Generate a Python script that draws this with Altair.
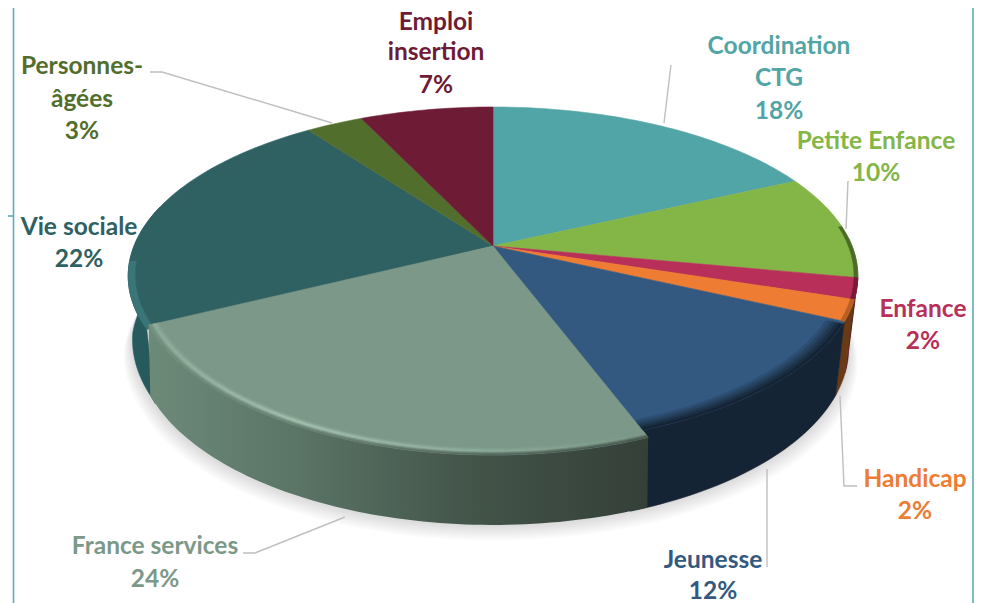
import math
import altair as alt

# ---- data ----
categories = ["Coordination CTG", "Petite Enfance", "Enfance", "Handicap", "Jeunesse",
              "France services", "Vie sociale", "Personnes-âgées", "Emploi insertion"]
shares = [18, 10, 2, 2, 12, 24, 22, 3, 7]
top_colors = ["#52A5A6", "#84B547", "#B83059", "#EE7C32", "#335981",
              "#7C9888", "#2F6062", "#526E2D", "#6E1C36"]
wall_colors = ["#3A7576", "#3F5A22", "#5A1028", "#6A3A14", "#152434",
               "#4B6256", "#265A5C", "#3A4E20", "#4E1426"]

label_lines = [["Emploi", "insertion", "7%"], ["Coordination", "CTG", "18%"], ["Petite Enfance", "10%"],
               ["Enfance", "2%"], ["Handicap", "2%"], ["Jeunesse", "12%"],
               ["France services", "24%"], ["Vie sociale", "22%"], ["Personnes-", "âgées", "3%"]]
label_colors = ["#6E1C36", "#52A5A6", "#84B547", "#B83059", "#EE7C32", "#335981",
                "#7C9888", "#2F6062", "#526E2D"]
label_x = [436, 779, 876, 923, 915, 713, 155, 79, 82]
label_y = [[21, 51, 84], [45, 77, 110], [140, 172], [308, 340], [478, 510], [559, 590],
           [545, 578], [226, 258], [65, 98, 130]]

leaders = [[(150, 72), (162, 72), (332, 123)],
           [(671, 65), (664, 123)],
           [(848, 181), (846, 229)],
           [(840, 396), (844, 486), (857, 486)],
           [(767, 469), (767, 567)],
           [(345, 517), (255, 553), (243, 553)],
           [(783, -1), (787, 2)]]
frame_tick = [[(0, 216), (13, 216)]]
frame_x = [973, 13.5]

# ---- perspective of the disc ----
CX, TIP_Y, C, A, S = 493.0, 246.0, 0.1775, -120.0, 359.0
K, D0, D1 = 0.975, 58.6, 0.048
FS = 5  # index of the France services slice
TEXT_DROP = 2


def top(theta, r=1.0, idx=None):
    u, v = r * math.sin(theta), r * math.cos(theta)
    d = 1 + C * v
    x, y = CX + S * u / d, (A * v + TIP_Y) / d
    if idx == FS:
        x, y = CX + 0.98 * (x - CX), TIP_Y + 1.05 * (y - TIP_Y)
    return (round(x, 2), round(y, 2))


def bottom(theta, grow=0.0, drop=0.0):
    x, y = top(theta)
    widen = 0.016 * min(1.0, max(0.0, (theta - 4.27) / 0.35))
    return (round(CX + (K + widen + grow) * (x - CX), 2), round(y + D0 + D1 * y + drop, 2))


def steps(a, b, n=None):
    n = n or max(2, int(abs(b - a) / 0.02))
    return [a + (b - a) * i / n for i in range(n + 1)]


def feature(points, color):
    ring = list(points) + [points[0]]
    return {"type": "Feature", "properties": {"color": color},
            "geometry": {"type": "Polygon", "coordinates": [ring]}}


def line_feature(points, color):
    return {"type": "Feature", "properties": {"color": color},
            "geometry": {"type": "LineString", "coordinates": points}}


def lerp(c1, c2, t):
    a = [int(c1[i:i + 2], 16) for i in (1, 3, 5)]
    b = [int(c2[i:i + 2], 16) for i in (1, 3, 5)]
    return "#" + "".join(f"{round(p + (q - p) * t):02x}" for p, q in zip(a, b))


limits = []
acc = 0
for sh in shares:
    limits.append((acc / 100 * 2 * math.pi, (acc + sh) / 100 * 2 * math.pi))
    acc += sh

PROJ = dict(type="identity", scale=1, translate=[-8, -8])
UNDERLAP = 0.045  # neighbours of France services run on beneath it


def geo(features, **mark):
    return alt.Chart(alt.Data(values=features)).mark_geoshape(**mark).project(**PROJ)


def flat(features):
    return geo(features, strokeWidth=0.6).encode(
        fill=alt.Color("properties.color:N", scale=None),
        stroke=alt.Color("properties.color:N", scale=None),
    )


# shadow under the pie
shadow_layers = []
for i in range(1, 8):
    ring = [bottom(t, grow=0.0035 * i, drop=2.2 * i) for t in steps(math.pi / 2 - 0.3, 3 * math.pi / 2 + 0.3, 120)]
    shadow_layers.append(geo([feature(ring, "#000000")], fill="#000000", fillOpacity=0.018, strokeWidth=0))


# outer walls
def wall(idx, a=None, b=None, pad_s=0.0, pad_e=0.0):
    s, e = limits[idx]
    s = max(s, a if a is not None else s) - pad_s
    e = min(e, b if b is not None else e) + pad_e
    ts = steps(s, e)
    return [top(t, 1.0, idx) for t in ts] + [bottom(t) for t in reversed(ts)]


walls_back = []
for i in (1, 2, 3):
    walls_back.append(feature(wall(i, a=math.pi / 2 - 0.05), wall_colors[i]))
walls_back.append(feature(wall(6, b=3 * math.pi / 2 + 0.25, pad_s=UNDERLAP), wall_colors[6]))
walls_back.append(feature(wall(4, pad_e=UNDERLAP), wall_colors[4]))

fs_gradient = alt.LinearGradient(
    gradient="linear", x1=0, x2=1, y1=0, y2=0,
    stops=[alt.GradientStop(color="#6D8A79", offset=0),
           alt.GradientStop(color="#5A7466", offset=0.3),
           alt.GradientStop(color="#435449", offset=0.65),
           alt.GradientStop(color="#343F38", offset=1)])
fs_wall = geo([feature(wall(FS), "#000000")], fill=fs_gradient, strokeWidth=0)

# top faces
tops = []
for i, (s, e) in enumerate(limits):
    if i == FS:
        continue
    if i == 4:
        e += UNDERLAP
    if i == 6:
        s -= UNDERLAP
    pts = [(CX, TIP_Y)] + [top(t, 1.0, i) for t in steps(s, e)]
    tops.append(feature(pts, top_colors[i]))
fs_top = [feature([(CX, TIP_Y)] + [top(t, 1.0, FS) for t in steps(*limits[FS])], top_colors[FS])]


# bevelled rims, drawn as narrow angular bands
def band(idx, a, b, r0, r1, color):
    ts = steps(a, b, max(2, int(abs(b - a) / 0.04)))
    return feature([top(t, r0, idx) for t in ts] + [top(t, r1, idx) for t in reversed(ts)], color)


rims_under = []
s, e = limits[4]
n = 5
for j in range(n):
    r0, r1 = 0.955 + 0.009 * j, 0.955 + 0.009 * (j + 1)
    rims_under.append(band(4, s + 0.015, e + UNDERLAP, r0, r1, lerp(top_colors[4], wall_colors[4], (j + 1) / n)))
for idx, a, b, col in [(1, 1.45, limits[1][1], "#4C6A2A"), (2, limits[2][0], limits[2][1], "#7A1A3A")]:
    rims_under.append(band(idx, a, b, 0.99, 1.0, col))
rims_under.append(band(3, limits[3][0], limits[3][1], 0.99, 1.0, "#B85F24"))
rims_under.append(band(6, limits[6][0] - UNDERLAP, 4.62, 0.982, 1.0, "#3A7578"))

rims = []
s, e = limits[FS]
segments = 30
for g in range(segments):
    a, b = s + (e - s) * g / segments, s + (e - s) * (g + 1) / segments
    x_frac = (math.sin(a) + 1) / 2  # 0 at the left of the disc, 1 at the right
    glow = max(0.0, min(1.0, 1.0 - 2.4 * abs(x_frac - 0.28)))
    dark = lerp("#6D8A79", "#343F38", min(1.0, max(0.0, (x_frac - 0.05) / 0.75)))
    light = lerp(top_colors[FS], "#A6C5B3", glow)
    base = top_colors[FS]
    colours = [lerp(base, light, 0.2), lerp(base, light, 0.45), lerp(base, light, 0.75), light,
               lerp(light, dark, 0.3), lerp(light, dark, 0.6), lerp(light, dark, 0.85)]
    for j, col in enumerate(colours):
        rims.append(band(FS, a, b, 0.972 + 0.004 * j, 0.972 + 0.004 * (j + 1), col))

# lines
lines = [line_feature(p, "#BFBFBF") for p in leaders]
lines_frame = [line_feature(p, "#5BB0B3") for p in frame_tick]


def stroke_layer(features, width):
    return geo(features, filled=False, strokeWidth=width).encode(
        stroke=alt.Color("properties.color:N", scale=None))


frame_rules = alt.Chart(alt.Data(values=[{"x": x - 8} for x in frame_x])).mark_rule(
    color="#5BB0B3", strokeWidth=1.6, clip=False
).encode(x=alt.X("x:Q", scale=None, axis=None), y=alt.value(0), y2=alt.value(595))

# labels
rows = []
for lab, col, x, ys in zip(label_lines, label_colors, label_x, label_y):
    for txt, y in zip(lab, ys):
        rows.append({"text": txt, "color": col, "x": x - 8, "y": y - 8 + TEXT_DROP})
labels = alt.Chart(alt.Data(values=rows)).mark_text(
    font="Lato", fontWeight="bold", fontSize=24.5, align="center", baseline="middle"
).encode(
    x=alt.X("x:Q", scale=None, axis=None),
    y=alt.Y("y:Q", scale=None, axis=None),
    text="text:N",
    color=alt.Color("color:N", scale=None),
)

chart = alt.layer(
    stroke_layer(lines_frame, 1.6),
    *shadow_layers,
    flat(walls_back),
    flat(tops),
    flat(rims_under),
    fs_wall,
    flat(fs_top),
    flat(rims),
    stroke_layer(lines, 1.4),
    labels,
    frame_rules,
).properties(
    width=966, height=595, padding=0, background="#FFFFFF",
    autosize=alt.AutoSizeParams(type="none"),
).configure_view(stroke=None)

chart.save("out.html", embed_options={"renderer": "svg", "actions": False})
